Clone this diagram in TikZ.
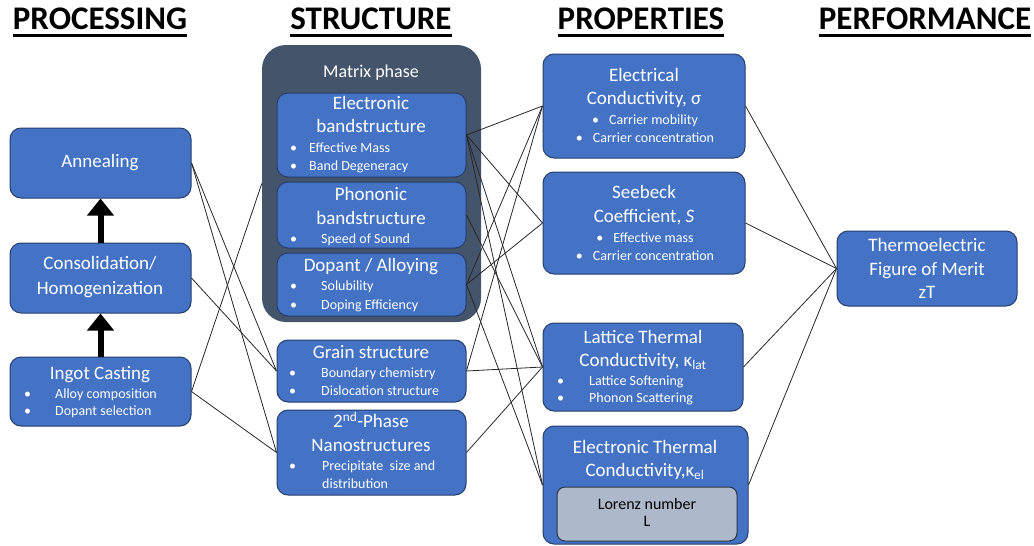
\documentclass[tikz,border=0pt]{standalone}
\usepackage{fontspec}
\setmainfont{Carlito}
\usetikzlibrary{arrows.meta}
\definecolor{boxblue}{HTML}{4472C4}
\definecolor{boxline}{HTML}{263E6E}
\definecolor{matrixfill}{HTML}{44546A}
\definecolor{lorenzfill}{HTML}{ADB9CA}
\definecolor{lorenzline}{HTML}{2B3445}
\begin{document}
\begin{tikzpicture}[x=1pt,y=-1pt,
  box/.style={draw=boxline, fill=boxblue, line width=1pt, rounded corners=11pt, inner sep=0pt},
  matrixbox/.style={fill=matrixfill, rounded corners=24pt, inner sep=0pt},
  lorenzbox/.style={draw=lorenzline, fill=lorenzfill, line width=1pt, rounded corners=8pt, inner sep=0pt},
  head/.style={font=\fontsize{33}{36}\selectfont\bfseries, inner sep=0pt, text height=22pt, text depth=0pt},
  ttl/.style={font=\fontsize{19}{23}\selectfont, text=white, inner sep=0pt, text height=13pt, text depth=4pt},
  bul/.style={font=\fontsize{14}{17}\selectfont, text=white, inner sep=0pt, text height=10pt, text depth=3pt},
  lz/.style={font=\fontsize{16}{19}\selectfont, text=black, inner sep=0pt, text height=11pt, text depth=3pt},
  link/.style={draw=black!85, line width=0.8pt},
  bigarrow/.style={line width=6pt, -{Triangle[width=26pt,length=17pt]}}]
\useasboundingbox (0,0) rectangle (1034,546);

% column headings
\node[head] (hproc) at (100,19) {PROCESSING};
\node[head] (hstruc) at (371,19) {STRUCTURE};
\node[head] (hprop) at (641,19) {PROPERTIES};
\node[head] (hperf) at (925,19) {PERFORMANCE};
\foreach \h in {hproc,hstruc,hprop,hperf}
  \draw[line width=2.6pt] (\h.west |- 0,35.5) -- (\h.east |- 0,35.5);

% processing column
\node[box, minimum width=181, minimum height=70] (anneal) at (100.5,163) {};
\node[box, minimum width=181, minimum height=70] (consol) at (100.5,278) {};
\node[box, minimum width=181, minimum height=69] (ingot) at (100.5,391.5) {};
\node[ttl] (anneal-t) at (100,163) {Annealing};
\node[ttl] (consol-t1) at (100,265) {Consolidation/};
\node[ttl] (consol-t2) at (100,290) {Homogenization};
\node[ttl] (ingot-t) at (100,375) {Ingot Casting};
\node[bul, anchor=west] (ingot-b1) at (24,395) {\makebox[31pt][l]{•}Alloy composition};
\node[bul, anchor=west] (ingot-b2) at (24,412) {\makebox[31pt][l]{•}Dopant selection};
\draw[bigarrow] (ingot.north) -- (consol.south);
\draw[bigarrow] (consol.north) -- (anneal.south);

% structure column
\node[matrixbox, minimum width=219, minimum height=277] (matrix) at (371.5,183.5) {};
\node[ttl, font=\fontsize{18}{22}\selectfont] (matrix-t) at (371,73) {Matrix phase};
\node[box, minimum width=189, minimum height=84] (eband) at (371.5,135) {};
\node[box, minimum width=189, minimum height=66] (pband) at (371.5,215) {};
\node[box, minimum width=189, minimum height=63] (dopant) at (371.5,284.5) {};
\node[box, minimum width=189, minimum height=62] (grain) at (371.5,371) {};
\node[box, minimum width=189, minimum height=85] (second) at (371.5,452.5) {};

\node[ttl] (eband-t1) at (371,105) {Electronic};
\node[ttl] (eband-t2) at (371,128) {bandstructure};
\node[bul, anchor=west] (eband-b1) at (290,149) {\makebox[19pt][l]{•}Effective Mass};
\node[bul, anchor=west] (eband-b2) at (290,167) {\makebox[19pt][l]{•}Band Degeneracy};

\node[ttl] (pband-t1) at (371,196) {Phononic};
\node[ttl] (pband-t2) at (371,220) {bandstructure};
\node[bul, anchor=west] (pband-b1) at (290,240) {\makebox[31pt][l]{•}Speed of Sound};

\node[ttl] (dopant-t) at (371,267) {Dopant / Alloying};
\node[bul, anchor=west] (dopant-b1) at (290,287) {\makebox[31pt][l]{•}Solubility};
\node[bul, anchor=west] (dopant-b2) at (290,306) {\makebox[31pt][l]{•}Doping Efficiency};

\node[ttl] (grain-t) at (371,354) {Grain structure};
\node[bul, anchor=west] (grain-b1) at (289,374) {\makebox[32pt][l]{•}Boundary chemistry};
\node[bul, anchor=west] (grain-b2) at (289,392) {\makebox[32pt][l]{•}Dislocation structure};

\node[ttl] (second-t1) at (371,423) {2\textsuperscript{nd}-Phase};
\node[ttl] (second-t2) at (371,447) {Nanostructures};
\node[bul, anchor=west] (second-b1) at (289,467) {\makebox[33pt][l]{•}Precipitate\ \ size and};
\node[bul, anchor=west] (second-b2) at (322,485) {distribution};

% properties column
\node[box, minimum width=202, minimum height=104] (elec) at (644,106) {};
\node[box, minimum width=202, minimum height=102] (seebeck) at (644,223) {};
\node[box, minimum width=200, minimum height=88] (lattice) at (643,367) {};
\node[box, minimum width=205, minimum height=118] (ethermal) at (645.5,485) {};
\node[lorenzbox, minimum width=180, minimum height=54] (lorenz) at (647,514) {};

\node[ttl] (elec-t1) at (644,77) {Electrical};
\node[ttl] (elec-t2) at (644,100) {Conductivity, σ};
\node[bul] (elec-b1) at (645,121) {•\hspace{10pt}Carrier mobility};
\node[bul] (elec-b2) at (645,139) {•\hspace{10pt}Carrier concentration};

\node[ttl] (seebeck-t1) at (644,194) {Seebeck};
\node[ttl] (seebeck-t2) at (644,218) {Coefficient, \textit{S}};
\node[bul] (seebeck-b1) at (645,239) {•\hspace{10pt}Effective mass};
\node[bul] (seebeck-b2) at (645,257) {•\hspace{10pt}Carrier concentration};

\node[ttl] (lattice-t1) at (643,339) {Lattice Thermal};
\node[ttl] (lattice-t2) at (643,362) {Conductivity, κ\textsubscript{lat}};
\node[bul, anchor=west] (lattice-b1) at (557,382) {\makebox[32pt][l]{•}Lattice Softening};
\node[bul, anchor=west] (lattice-b2) at (557,399) {\makebox[32pt][l]{•}Phonon Scattering};

\node[ttl] (ethermal-t1) at (645,449) {Electronic Thermal};
\node[ttl] (ethermal-t2) at (645,472) {Conductivity,κ\textsubscript{el}};
\node[lz] (lorenz-t1) at (647,505) {Lorenz number};
\node[lz] (lorenz-t2) at (647,522) {L};

% performance column
\node[box, minimum width=180, minimum height=75] (zt) at (927,268.5) {};
\node[ttl] (zt-t1) at (927,247) {Thermoelectric};
\node[ttl] (zt-t2) at (927,271) {Figure of Merit};
\node[ttl] (zt-t3) at (927,294) {zT};

% processing -> structure
\draw[link] (ingot.east) -- (matrix.west);
\draw[link] (anneal.east) -- (grain.west);
\draw[link] (anneal.east) -- (second.west);
\draw[link] (consol.east) -- (grain.west);
\draw[link] (ingot.east) -- (second.west);

% structure -> properties
\foreach \p in {elec,seebeck,lattice,ethermal}
  \draw[link] (eband.east) -- (\p.west);
\draw[link] (pband.east) -- (lattice.west);
\foreach \p in {elec,seebeck,ethermal}
  \draw[link] (dopant.east) -- (\p.west);
\draw[link] (grain.east) -- (elec.west);
\draw[link] (grain.east) -- (lattice.west);
\draw[link] (second.east) -- (lattice.west);

% properties -> performance
\foreach \p in {elec,seebeck,lattice,ethermal}
  \draw[link] (\p.east) -- (zt.west);
\end{tikzpicture}
\end{document}
